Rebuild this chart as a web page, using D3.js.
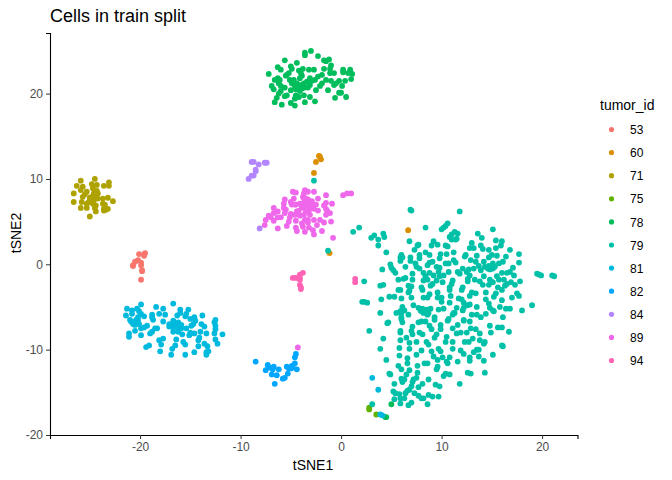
<!DOCTYPE html>
<html lang="en">
<head>
<meta charset="UTF-8">
<title>Cells in train split</title>
<script src="https://d3js.org/d3.v7.min.js"></script>
<style>
  html, body { margin: 0; padding: 0; background: #fff; }
  svg { display: block; }
  text { font-family: "Liberation Sans", Arial, sans-serif; }
</style>
</head>
<body>
<div id="chart"></div>
<script>
const tumorIds = ["53", "60", "71", "75", "78", "79", "81", "82", "84", "89", "94"];
const tumorColors = ["#F8766D", "#DB8E00", "#AEA200", "#64B200", "#00BD5C", "#00C1A7", "#00BADE", "#00A6FF", "#B385FF", "#EF67EB", "#FF63B6"];
const xTicks = [-20, -10, 0, 10, 20];
const yTicks = [-20, -10, 0, 10, 20];

const cells53 = [[-20.1,1.2],[-19.6,1.2],[-19.5,1.3],[-19.6,1],[-20.2,0.5],[-20.5,0.3],[-20.7,-0.1],[-20.7,-0.2],[-19.9,0.2],[-19.9,-0.1],[-19.8,-0.7],[-19.8,-0.8],[-19.9,-1.8]];
const cells60 = [[-2.2,12.7],[-2.1,12.6],[-2,12.3],[-2.5,12],[-2.7,10.7],[-1.15,1.3],[6.67,4]];
const cells71 = [[-25.9,9.8],[-24.5,10],[-23.1,9.6],[-23.1,9.2],[-26.3,9.2],[-24.8,9.4],[-24.3,9.3],[-23.6,9.2],[-25.9,8.7],[-25.7,9.1],[-26.6,8.3],[-25.3,8.5],[-24.7,8.9],[-24.3,8.6],[-25.5,8.2],[-25.7,7.9],[-24.6,8.3],[-24.2,8.3],[-25,7.8],[-24.5,7.9],[-23.2,7.8],[-22.7,7.4],[-26.6,7.3],[-25.8,7.3],[-25.1,7.3],[-24.8,7.6],[-24.2,7.7],[-23.7,7.7],[-25.3,7.1],[-24.7,7.1],[-24.4,6.9],[-23.7,7.1],[-23.5,7],[-25.9,6.6],[-25.3,6.6],[-24.5,6.6],[-23.6,6.5],[-23.2,6.5],[-23.4,6.4],[-24.4,6.2],[-23.6,6.3],[-25,5.6],[-24.4,8.1],[-24.8,7.9],[-24.6,7.5]];
const cells75 = [[2.8,-16.8],[2.8,-17],[3.5,-17.6]];
const cells78 = [[-3,25],[-3.6,24.8],[-3.6,24.5],[-2.3,24.4],[-5.6,23.9],[-1.7,23.9],[-1.2,24],[-1.5,23.8],[-4.4,23.6],[-1,23.3],[-6.3,23.1],[-5,23.2],[-6,22.8],[-4.9,22.9],[-3.8,22.9],[-3.2,22.8],[-2.7,22.8],[-4.2,22.7],[-1.7,22.9],[-1.1,22.9],[0.2,22.8],[0.9,22.8],[-7.2,22.3],[-5.2,22.4],[-5.4,22.2],[-4,22.4],[-1.1,22.4],[-0.7,22.4],[0.2,22.5],[0.7,22.4],[1.1,22.3],[-5.5,22.1],[-3.9,22.1],[-1.9,22.2],[-2.3,22],[-3.1,21.8],[-6.3,21.8],[-6.6,21.6],[-6.1,21.6],[-5.1,21.6],[-4.7,21.6],[-4.1,21.8],[-2.6,21.6],[-2.9,21.5],[-1.5,21.6],[-1,21.5],[-0.2,21.5],[0.4,21.5],[1,21.7],[-6.2,21.2],[-4.9,21.2],[-4.4,21.2],[-3.7,21.2],[-1.9,21.2],[-0.5,21.2],[-0.7,21],[-6.9,20.9],[-6,20.9],[-4.6,20.9],[-4,21],[-3.1,21],[-2.1,20.9],[0.1,20.9],[-6.7,20.5],[-5.6,20.7],[-5,20.4],[-4.2,20.7],[-3.6,20.7],[-3.3,20.7],[-2.5,20.4],[-1.3,20.4],[-6,20.3],[-4.1,20.3],[-0.2,20.1],[0,20.1],[-6.2,20],[-5.4,19.8],[-5.6,19.7],[-4.5,19.8],[-3.7,19.8],[-6.4,19.5],[-4.6,19.4],[-4.2,19.6],[-3.1,19.6],[-0.6,19.5],[0.5,19.6],[-6.6,19],[-5,18.9],[-3.6,19],[-2.6,19.1],[-5.9,18.7],[-4.6,18.6],[-4.5,20.5],[-3.9,20.6],[-4.8,21.4],[-4.3,21],[-3.4,21.4],[5,-16.4],[4.4,-17.9],[4.5,-17.9]];
const cells79 = [
  [-2.7,9.8],[-1.3,1.6],[6.9,6.4],[7,6.3],[11.8,6.2],[10.6,4.8],[10.4,4.5],[10.2,4.3],[10,4.1],[1.8,4.3],[1.2,3.8],[8.4,4.3],[4.2,3.6],[4.3,3.2],[3,3.1],[3.3,3.4],[3.7,2.9],[3.7,2.2],[6.8,2.7],[11,3.5],[10.8,3.2],[11.3,3.8],[11.6,3.6],[11,2.9],[11.4,2.9],[9.2,2.7],[9.6,2.3],[9,2.2],[7.7,2.3],[7.6,2.2],[7.3,1.7],[10.4,2.2],[10.6,2.1],[4.5,1.4],[8.4,1.4],[8.8,1.1],[7.8,1.1],[6,1.1],[5.9,0.8],[6.1,0.8],[5.9,0.4],[6.9,0.8],[6.9,0.4],[7.8,0.7],[9.9,1.2],[10.5,1.2],[9.8,0.7],[11.2,1.4],[11.2,0.5],[11.4,0.2],[4.9,0],[5,-0.4],[5.2,-0.7],[5.4,-1],[4.1,-0.6],[6.4,-0.3],[7.4,0.1],[7.5,-0.3],[7.8,-0.5],[9.1,0.3],[8.8,0.2],[8.6,-0.1],[10.7,0.1],[10.4,0.1],[9.5,-0.3],[9.8,-0.4],[9.7,-0.9],[8.2,-1],[8.8,-1],[9.2,-1.3],[7.1,-1.1],[7.1,-1.8],[6.4,-1.6],[6.2,-1.7],[5.7,-1.8],[8.4,-1.4],[9.8,-1.4],[10.2,-1.3],[10.7,-0.9],[11.6,-0.9],[11.8,-1.1],[8.2,-1.9],[8.6,-1.8],[9.5,-1.9],[10.1,-2.1],[11.1,-1.9],[11,-2.3],[2.3,-2],[4.2,-2.4],[3.9,-2.5],[6.7,-2.5],[7,-2.6],[6.8,-3.1],[6.7,-3.3],[5.7,-3],[5.9,-3],[8,-2.7],[8.1,-3],[8.9,-2.5],[9.1,-2.3],[10.8,-2.7],[10.8,-3],[9.6,-3.3],[8.8,-3.5],[8.2,-3.9],[9.6,-3.9],[10,-3.9],[10.9,-3.7],[4.8,-3.8],[5.3,-3.8],[6,-4],[7,-3.9],[8.6,-3.9],[4,-4.1],[10,-4.4],[11.7,-4],[2.1,-4.4],[2.3,-4.4],[2.6,-4.5],[7.2,-4.8],[10.8,-4.5],[3.9,-5.7],[6.1,-5],[7.7,-5.1],[8.1,-5.2],[5.5,-5.7],[5.9,-5.5],[6.3,-5.4],[6.7,-5.9],[7.9,-5.4],[8.5,-5.3],[8.9,-5.2],[9.7,-5.3],[10.2,-5.2],[11.5,-5.1],[11.2,-5.7],[8.2,-5.7],[8.7,-5.7],[9.3,-6.2],[6,-6.2],[10.7,-6.4],
  [15.1,4.1],[13.6,3.6],[14,3.1],[11.5,3],[13,2.5],[12.8,1.9],[13.2,1.9],[15.4,2.8],[16,2.7],[15.9,2.2],[15.4,1.9],[13.9,2.2],[14.1,1.8],[14.7,1.7],[16.8,1.7],[17.7,1.2],[15,1.1],[15.5,1],[12.4,1.1],[12.3,0.9],[13.5,1],[16.4,0.9],[12.9,0.5],[13.4,0.3],[17.7,0.2],[16.1,0.3],[15.7,0.1],[14.7,0.8],[14.2,0.3],[13.7,-0.2],[14.3,-0.3],[14.7,-0.2],[15.1,0.1],[14.9,-0.5],[14.6,-0.5],[15.3,-0.3],[13.2,-0.5],[13.9,-0.7],[14.8,-0.6],[15.1,-0.5],[17.1,-0.4],[16.8,-0.9],[12.7,-0.6],[12.5,-0.9],[12.1,-0.5],[16.5,-1],[16,-1],[14.2,-1.4],[17.2,-1.3],[15.5,-1.4],[13.3,-1.8],[12.8,-1.3],[12.6,-1.7],[12.6,-2],[14.8,-1.8],[15.7,-1.8],[16.2,-1.8],[15.1,-2.1],[14.7,-2.4],[17.8,-2],[16.9,-2.1],[16.5,-2.3],[17.3,-2.4],[13.8,-2],[14.1,-2.4],[16.3,-2.5],[15.6,-2.7],[16,-3],[12.1,-2.7],[12,-3],[14.4,-3.3],[13,-3.3],[12.8,-3.7],[13.4,-3.4],[15.4,-3.4],[15.2,-3.8],[17.5,-3.4],[17.7,-3.7],[17,-3.9],[12,-4.1],[12.2,-4.5],[14.4,-4.1],[16,-4.2],[12.8,-4.7],[12.6,-4.8],[12.2,-5.1],[12.1,-5.4],[13.5,-5],[14.7,-4.6],[14.8,-5.1],[15.8,-5],[16.4,-5.2],[16.8,-5.2],[19,-4.8],[18,-5.4],[15.1,-5.4],[15.2,-5.5],[13,-5.9],[13.5,-5.9],[14.4,-5.8],[12.2,-6.5],[13.9,-6.2],[16.1,-6.2],[19.5,-1.1],[19.7,-1.2],[19.9,-1.3],[21,-1.3],[21.2,-1.4],
  [6,-5.7],[8,-5.5],[8.6,-5.9],[9.3,-6.5],[6,-6.4],[6.1,-6.8],[4.7,-6.8],[4.6,-6.9],[2.8,-7.8],[7.1,-7.3],[7,-7.8],[7.1,-8.2],[5.9,-7.8],[5.9,-8],[7.7,-6.8],[8,-6.7],[8.4,-6.7],[8.8,-7.2],[9,-7.6],[9.9,-7.1],[9.9,-7.6],[10.6,-6.6],[11.1,-5.9],[11.3,-5.7],[12.2,-6.6],[12.8,-6.7],[11.6,-7.1],[11.1,-7.5],[11.5,-8.1],[11.9,-8],[12.5,-8],[12.9,-7.5],[13.4,-7.6],[13.8,-8.1],[14.8,-7.2],[14.9,-8],[15.6,-7.4],[16,-7.4],[16.7,-7.9],[7.8,-8],[8.1,-8.2],[9.5,-8.2],[9.3,-8.6],[10.5,-8.5],[10.4,-9.1],[6.5,-8.6],[4.2,-8.7],[5.9,-8.9],[6.8,-9.2],[7.5,-9.1],[8.5,-9.1],[8.7,-9.4],[11.1,-9.1],[12.3,-9.1],[12.7,-9.1],[13.1,-8.7],[13.8,-8.9],[14.3,-9.1],[14.2,-9.3],[16,-9.5],[16.1,-9.6],[3.9,-9.9],[5.8,-9.8],[6.8,-9.9],[8,-10.1],[7.5,-10.6],[9,-10.2],[9.7,-9.9],[9.9,-10.2],[11.1,-9.9],[11.9,-10.1],[12.2,-10.5],[13.2,-10.3],[13.5,-10],[13.7,-10],[15.1,-10.6],[5.8,-10.7],[13.7,-10.8],[6.6,-11],[4.5,-11.2],[9.2,-10.8],[9.6,-11.2],[10.1,-10.9],[10.8,-10.9],[12.8,-10.9],[12.8,-11.3],[14.2,-11.3],[6.6,-11.6],[11.6,-11.4],[10.5,-11.4],[10.6,-11.6],[8.3,-11.6],[8.6,-11.6],[7.6,-11.9],[5.7,-11.9],[6,-12.3],[9.6,-12],[9.5,-12.3],[6.8,-12.4],[4.8,-12.8],[4.9,-12.9],[7.6,-12.7],[6.5,-12.9],[10.4,-12.8],[10.8,-12.9],[10.2,-13.1],[12.6,-12.7],[12.9,-12.8],[14.3,-12.7],[7.5,-13.3],[6,-13.4],[6.3,-13.5],[6.1,-13.8],[7.2,-13.5],[7.1,-13.8],[8.7,-13.5],[5.3,-14],[8.1,-14],[9.4,-14.1],[9.8,-14.3],[11.8,-14],[7,-14.3],[7.7,-14.4],[6.6,-14.8],[6.8,-14.7],[5.2,-14.9],[5.4,-15.1],[6.4,-15.1],[7.3,-15.1],[7.7,-15.4],[8.7,-15.3],[9.1,-15.5],[9.7,-15.5],[8,-15.7],[8.2,-15.7],[5.8,-15.2],[5.9,-15.7],[6.3,-15.7],[5.3,-15.8],[7,-16.2],[6.7,-16.5],[5.9,-16.3],[8.6,-16.4],[3.1,-16.4]
];
const cells81 = [[-19.9,-4.7],[-18.4,-5],[-16.7,-4.6],[-21.3,-5.2],[-20.8,-5.4],[-20.8,-5.8],[-20.3,-5.2],[-20.1,-5.5],[-19.9,-5.8],[-19.6,-6.1],[-21.4,-6],[-17.7,-5.2],[-18.1,-5.8],[-17.5,-5.9],[-18.8,-5.9],[-18.8,-6.2],[-18.7,-6.5],[-16,-5.3],[-16,-5.7],[-16.3,-6],[-15.2,-5.3],[-15.4,-5.8],[-15.5,-6.1],[-13.8,-6],[-21,-6.5],[-20.9,-6.7],[-20.7,-7],[-20.2,-6.2],[-20.2,-6.6],[-20.4,-6.5],[-20.1,-7],[-20.5,-7.1],[-19.3,-7.2],[-19.6,-7.4],[-19.9,-7.5],[-17.7,-6.7],[-16.7,-6.6],[-17.1,-7],[-16.8,-7.1],[-16.5,-7],[-16.2,-6.8],[-15.9,-7.1],[-17.1,-7.3],[-16.7,-7.4],[-16.3,-7.4],[-15.9,-7.5],[-15,-6.4],[-14.6,-6.2],[-14.5,-6.6],[-14.9,-7.2],[-14.7,-7],[-13.9,-7],[-13.6,-7.3],[-12.5,-6.5],[-12.6,-6.8],[-12.5,-7.2],[-15.4,-7.5],[-14,-7.9],[-20.5,-7.8],[-18.3,-7.5],[-18.5,-7.5],[-18.8,-7.9],[-19,-8.1],[-16.7,-7.9],[-16.2,-7.9],[-15.8,-8.2],[-15,-8],[-15.1,-8.3],[-14.6,-8.1],[-13.4,-8.1],[-12.5,-7.6],[-12.6,-8.1],[-11.8,-8.2],[-21.1,-8.1],[-21.1,-8.5],[-19.9,-8.3],[-14.1,-8.6],[-14.2,-8.9],[-17.7,-8.7],[-18.1,-8.9],[-17.9,-9.4],[-16.4,-8.8],[-15.7,-9.1],[-15.5,-9.4],[-12.5,-8.8],[-12.3,-9.3],[-13.6,-9.3],[-13.3,-9.6],[-14.2,-9.6],[-19.1,-9.5],[-19.4,-9.7],[-16.5,-9.5],[-16.8,-9.9],[-18,-10.2],[-16.9,-10.6],[-15.5,-10.6],[-14.6,-10.3],[-13.2,-10.2],[-13.4,-10.3],[-13.4,-10.6],[3.1,-13.3],[3.7,-14.7],[3.9,-17.6],[4.1,-17.7]];
const cells82 = [[-8.5,-11.4],[-4.5,-10.5],[-4.6,-10.9],[-7.3,-11.8],[-7.5,-12.4],[-7.1,-12.1],[-6.7,-12],[-6.8,-12.3],[-6.2,-12.3],[-6.9,-12.9],[-6.4,-13],[-5.4,-12],[-5.2,-12.2],[-4.9,-11.9],[-4.6,-11.6],[-4.4,-12.3],[-5.3,-12.8],[-5.6,-13.3],[-5.8,-13.4],[-6.6,-14],[-4.8,-12.1],[-5,-12.2]];
const cells84 = [[-8.9,12],[-8.7,12],[-8.2,11.7],[-7.6,11.9],[-7.4,11.9],[-8.5,11.1],[-8.5,10.9],[-8.7,10.4],[-8.9,10.4],[-9.2,10],[-8.1,4.2]];
const cells89 = [[-3.6,8.7],[-4.8,8.5],[-4.5,8.4],[-3.3,8.5],[-2.7,8.5],[-1.5,8.1],[0.2,8.1],[0.6,8.3],[1,8.3],[-3.7,8.3],[-3.8,7.9],[-4.7,7.7],[-2.3,7.7],[-5.6,7.6],[-5,7.3],[-3.7,7.7],[-3.3,7.6],[-2.9,7.4],[-5.7,7.1],[-4.9,7],[-4.1,7.1],[-4.5,7],[-3.8,7.1],[-3.4,7.2],[-3.1,7],[-1.5,7.2],[-1.7,6.9],[-0.9,7.1],[-6.7,6.6],[-5.7,6.6],[-3.7,6.6],[-3.1,6.6],[-2.7,6.5],[-2.3,6.3],[-6.3,6.2],[-6.7,6],[-5.5,6.4],[-5.6,6],[-4.4,6.2],[-1.5,6.5],[-1.4,6.3],[-1.1,6],[-1.5,5.8],[-7.2,5.7],[-5,5.9],[-4.6,5.8],[-4.1,5.7],[-3.7,5.8],[-3.1,5.8],[-7,5.5],[-7.5,5.2],[-6.3,5.5],[-6,5.5],[-5.1,5.5],[-4.5,5.1],[-3.6,5.2],[-3.3,5.2],[-2.7,5.2],[-2.1,5.2],[-6.7,5.1],[-5.2,5],[-3.9,4.8],[-3.3,4.9],[-1.7,4.9],[-1,5],[-7.6,4.6],[-5.4,4.5],[-2.4,4.6],[-4.5,4.3],[-3.8,4.4],[-3.2,4.3],[-2.8,4],[-6.3,4.2],[-4.4,3.9],[-3.6,3.8],[-1.9,3.9],[-2.7,3.5],[-0.8,3.1],[-4.3,-9.75],[-3.4,6.8],[-3.9,6.7],[-3.2,6.3],[-4.2,6.3],[-2.9,6.8],[-2.5,7],[-4.6,7],[-3.5,7.7],[-3.5,6.2]];
const cells94 = [[-3.8,-1],[-4.1,-1.2],[-4.8,-1.6],[-4.5,-1.6],[-4.1,-1.6],[-4.1,-1.8],[-4.1,-2.4],[-4,-2.7],[-4,-2.9],[1.4,-1.7],[1.4,-2.1]];

const allCells = [cells53, cells60, cells71, cells75, cells78, cells79, cells81, cells82, cells84, cells89, cells94];

const w = 672;
const h = 480;

const x = d3.scaleLinear().domain([-28.96, 23.52]).range([50, 577.5]);
const y = d3.scaleLinear().domain([-20, 27.1]).range([435, 33]);

const svg = d3.select('#chart')
  .append('svg')
  .attr('width', w)
  .attr('height', h);

allCells.forEach((cells, i) => {
  svg.append('g')
    .selectAll('circle')
    .data(cells)
    .enter()
    .append('circle')
    .attr('cx', d => x(d[0]))
    .attr('cy', d => y(d[1]))
    .attr('r', 2.9)
    .attr('fill', tumorColors[i]);
});

const xAxis = svg.append('g')
  .attr('transform', 'translate(0,435)')
  .call(d3.axisBottom(x).tickValues(xTicks).tickSize(4).tickPadding(3).tickFormat(String));
const yAxis = svg.append('g')
  .attr('transform', 'translate(50,0)')
  .call(d3.axisLeft(y).tickValues(yTicks).tickSize(4).tickPadding(3).tickFormat(String));

[xAxis, yAxis].forEach(a => {
  a.select('.domain').attr('stroke', '#000').attr('stroke-width', 1.1);
  a.selectAll('.tick line').attr('stroke', '#333').attr('stroke-width', 1);
  a.selectAll('.tick text')
    .attr('fill', '#4D4D4D')
    .style('font-size', '12px')
    .style('font-family', '"Liberation Sans", Arial, sans-serif');
});

svg.append('text')
  .attr('x', 50)
  .attr('y', 22)
  .attr('font-size', 18)
  .attr('fill', '#000')
  .text('Cells in train split');

svg.append('text')
  .attr('x', 313)
  .attr('y', 470)
  .attr('text-anchor', 'middle')
  .attr('font-size', 14)
  .text('tSNE1');

svg.append('text')
  .attr('transform', 'translate(21,233) rotate(-90)')
  .attr('text-anchor', 'middle')
  .attr('font-size', 14)
  .text('tSNE2');

const legendScale = d3.scalePoint().domain(tumorIds).range([129.5, 360.5]);

svg.append('text')
  .attr('x', 600)
  .attr('y', 110)
  .attr('font-size', 14)
  .text('tumor_id');

const legend = svg.append('g')
  .selectAll('g')
  .data(tumorIds)
  .enter()
  .append('g')
  .attr('transform', d => 'translate(0,' + legendScale(d) + ')');

legend.append('circle')
  .attr('cx', 611.5)
  .attr('r', 2.6)
  .attr('fill', (d, i) => tumorColors[i]);

legend.append('text')
  .attr('x', 630)
  .attr('y', 4.6)
  .attr('font-size', 12)
  .text(d => d);
</script>
</body>
</html>
